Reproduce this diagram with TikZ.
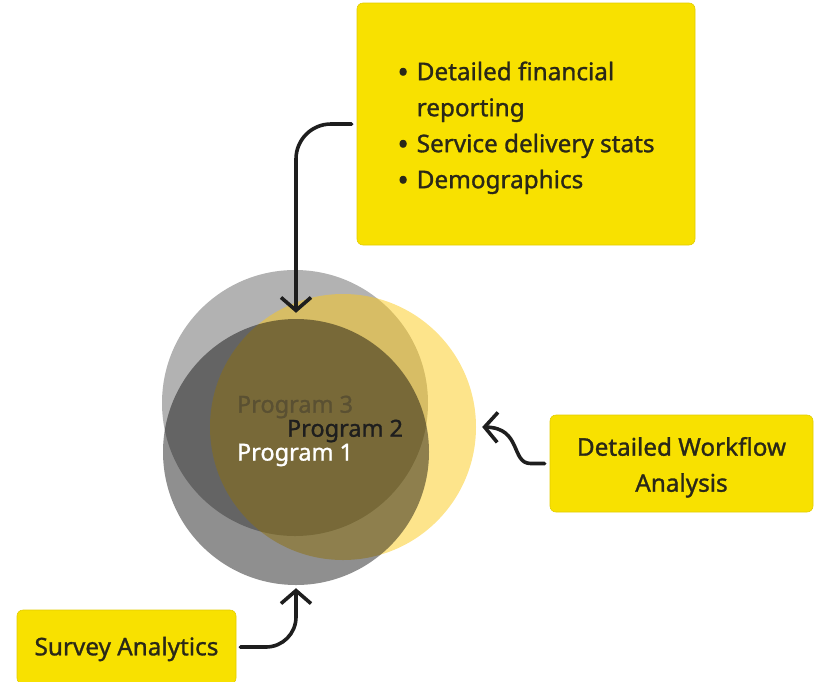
\documentclass[tikz,border=0pt]{standalone}
\usepackage{fontspec}
\setmainfont{Noto Sans}[FakeBold=1.2]
\usepackage{tikz}
\usetikzlibrary{calc}
\usetikzlibrary{arrows.meta}

\definecolor{notefill}{HTML}{F8E100}
\definecolor{noteedge}{HTML}{E2CD00}
\definecolor{notetext}{HTML}{2A2818}
\definecolor{arrowcol}{HTML}{1E1E1E}
\definecolor{ringyellow}{HTML}{FBC918}
\definecolor{labeldim}{HTML}{5A5032}

\begin{document}
\begin{tikzpicture}[x=1pt, y=-1pt,
    notebox/.style={fill=notefill, draw=noteedge, line width=0.6pt, rounded corners=6pt,
                    text=notetext, font=\fontsize{24.3}{36}\selectfont, inner sep=0pt},
    connector/.style={draw=arrowcol, line width=3.6pt, line cap=round,
                      -{Straight Barb[length=13pt, width=30pt]}},
    proglabel/.style={font=\fontsize{23.5}{24}\selectfont, inner sep=0pt}]
  \useasboundingbox (0, 0) rectangle (814, 681);
  \newcommand{\programcircle}[4]
  {%
    \node[circle, minimum size=266pt, inner sep=0pt, fill=#3, fill opacity=#4] (#1) at #2 {};%
  }%
  \newcommand{\notebullet}{\raisebox{-2.5pt}{\fontsize{30}{36}\selectfont\textbullet}}
  % push note text a little down
  \newcommand{\lowertext}[2]{\raisebox{0pt}[\dimexpr\height+#1\relax]{#2}}
  % the three programs
  \programcircle{prog3}{(295, 403)}{black}{0.30}
  \programcircle{prog2}{(343, 427)}{ringyellow}{0.50}
  \programcircle{prog1}{(296, 452)}{black}{0.44}
  \node[proglabel, text=labeldim] (lab3) at (295, 407) {Program 3};
  \node[proglabel, text=arrowcol] (lab2) at (345, 431) {Program 2};
  \node[proglabel, text=white]    (lab1) at (295, 455) {Program 1};
  % notes
  \node[notebox, minimum width=338pt, minimum height=242pt] (details) at (526, 124)
    {\lowertext{6pt}{\begin{tabular}{@{}l@{\hspace{8pt}}l@{}}
       \notebullet & Detailed financial\\
                   & reporting\\
       \notebullet & Service delivery stats\\
       \notebullet & Demographics
     \end{tabular}}};
  \node[notebox, minimum width=263pt, minimum height=97pt] (workflow) at (681.5, 463.5)
    {\lowertext{6pt}{\begin{tabular}{@{}c@{}}Detailed Workflow\\Analysis\end{tabular}}};
  \node[notebox, minimum width=219pt, minimum height=74pt] (survey) at (126.5, 647)
    {\lowertext{4pt}{Survey Analytics}};
  % connectors
  \draw[connector, rounded corners=35pt] ([xshift=-5pt]details.west) -| ([yshift=6pt]prog1.north);
  \draw[connector] ([xshift=-5pt]workflow.west) -- ++(-14, 0)
    .. controls +(-20, 0) and (522, 428) .. ([xshift=6pt]prog2.east);
  \draw[connector, rounded corners=30pt] ([xshift=4pt]survey.east) -| ([yshift=-3pt]prog1.south);
\end{tikzpicture}
\end{document}
